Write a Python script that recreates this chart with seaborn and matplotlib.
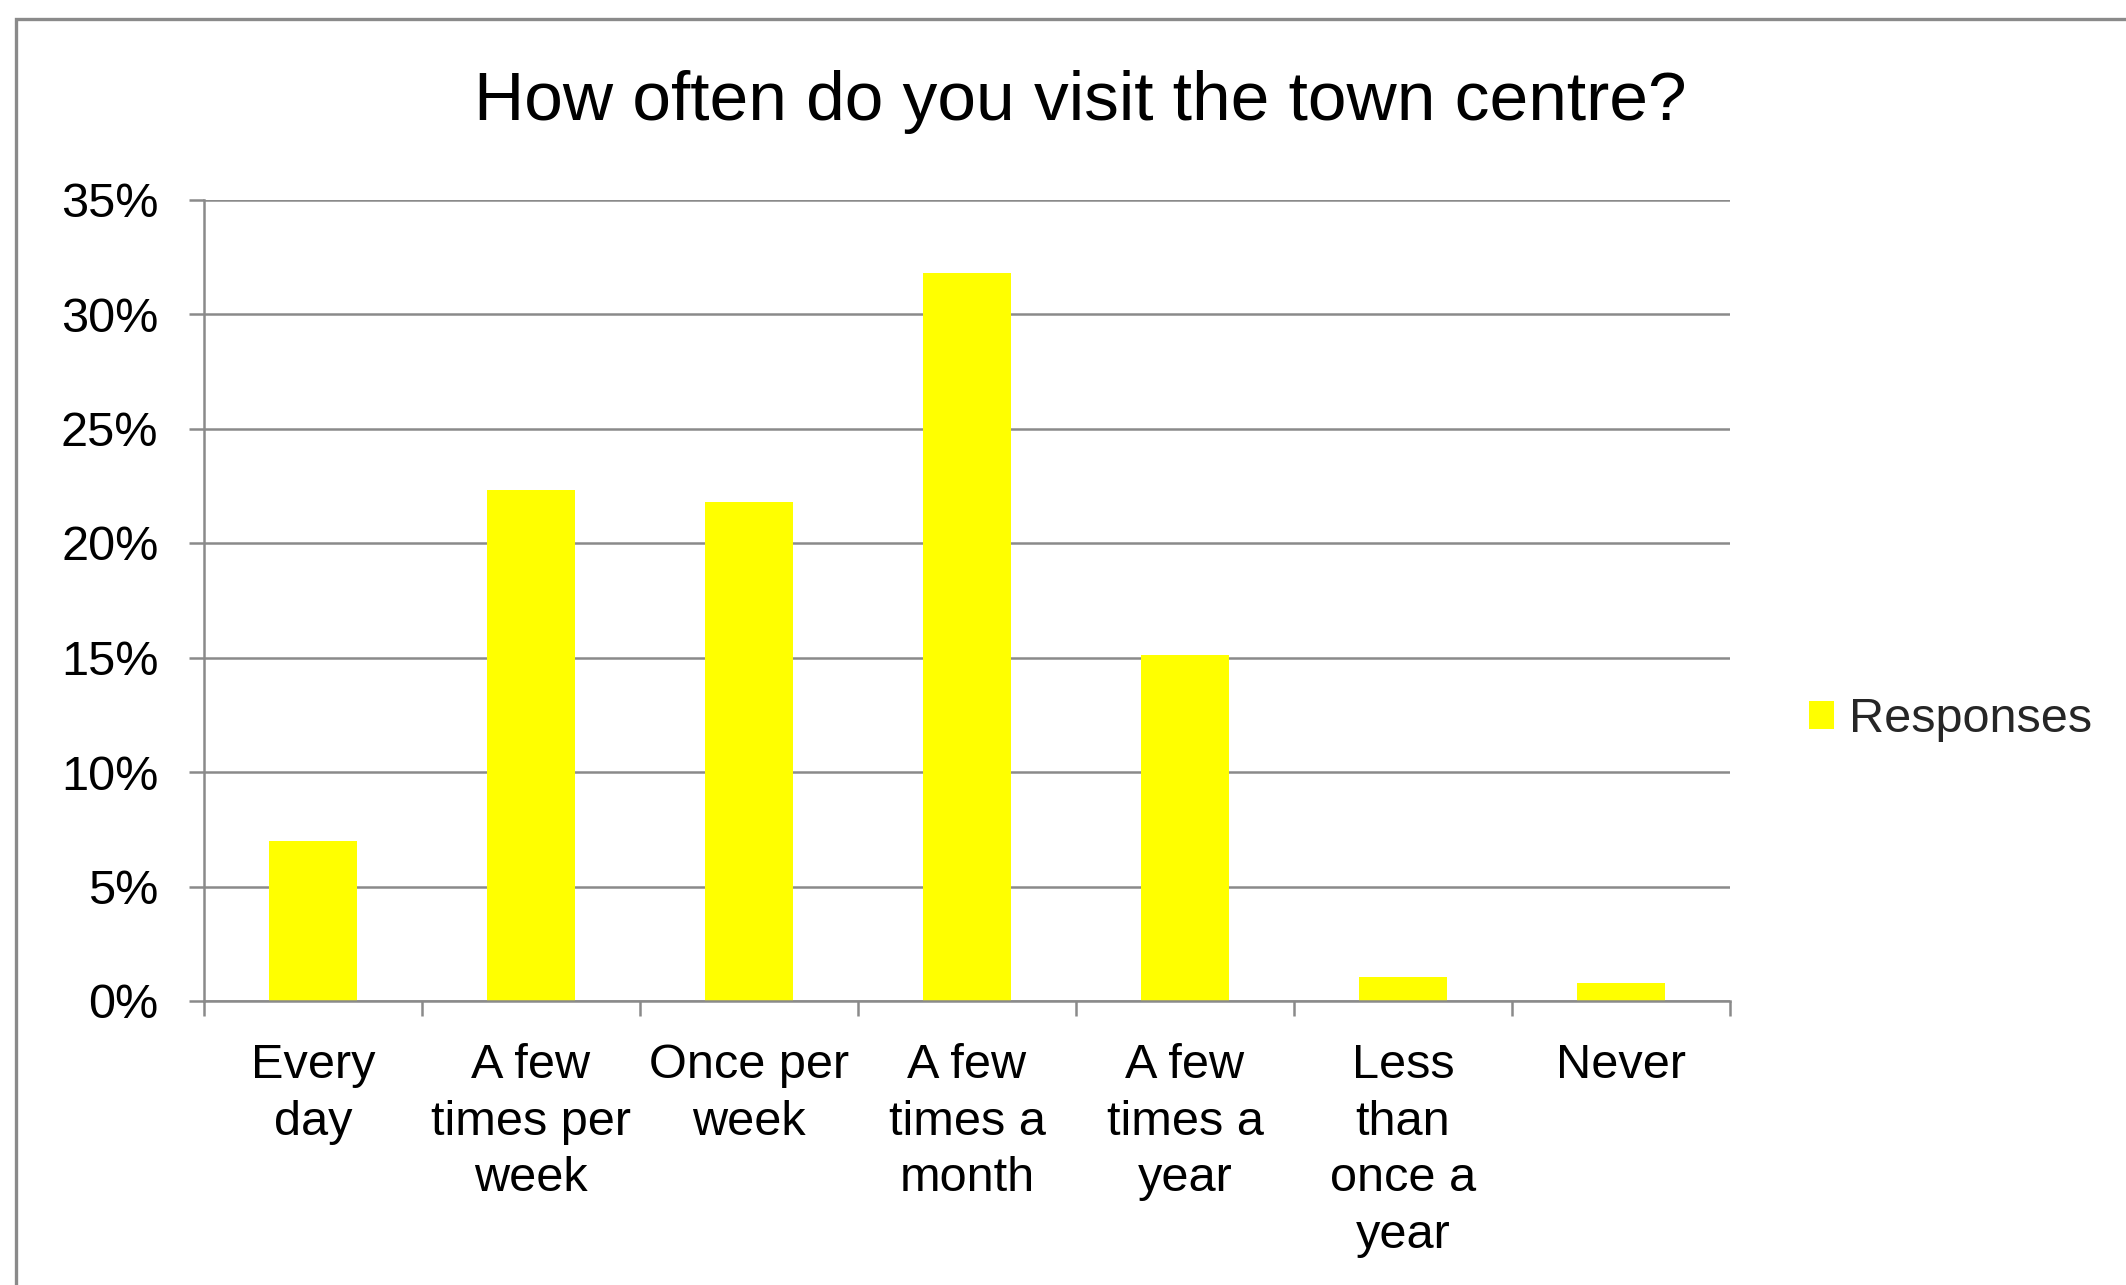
import numpy as np
import pandas as pd
import seaborn as sns
import matplotlib
matplotlib.use("Agg")
import matplotlib.pyplot as plt
from matplotlib.patches import Rectangle
from matplotlib.ticker import PercentFormatter

# Survey answers and share of responses (fraction of all respondents)
categories = [
    "Every\nday",
    "A few\ntimes per\nweek",
    "Once per\nweek",
    "A few\ntimes a\nmonth",
    "A few\ntimes a\nyear",
    "Less\nthan\nonce a\nyear",
    "Never",
]
responses = [0.070, 0.223, 0.218, 0.318, 0.151, 0.0103, 0.0079]
y_ticks = [0.0, 0.05, 0.10, 0.15, 0.20, 0.25, 0.30, 0.35]
title_text = "How often do you visit the town centre?"
series_name = "Responses"

df = pd.DataFrame({"answer": categories, "share": responses})

sns.set_theme(style="white")
plt.rcParams["font.family"] = ["Liberation Sans", "DejaVu Sans"]

GRAY = "#8a8a8a"
BAR = "#FFFF00"

W, H = 2126, 1285
fig = plt.figure(figsize=(W / 100, H / 100), dpi=100)
fig.patch.set_facecolor("white")

ax = fig.add_axes([204 / W, 1 - 1001 / H, (1730 - 204) / W, (1001 - 199.5) / H])

sns.barplot(data=df, x="answer", y="share", color=BAR, width=0.4,
            saturation=1, ax=ax, label=series_name)
for p in ax.patches:
    p.set_edgecolor("none")

ax.set_xlim(-0.5, len(categories) - 0.5)
ax.set_ylim(0, 0.35)
ax.set_xlabel("")
ax.set_ylabel("")

# y axis: percent ticks with outward tick marks and horizontal gridlines
ax.set_yticks(y_ticks)
ax.yaxis.set_major_formatter(PercentFormatter(1.0, decimals=0))
ax.tick_params(axis="y", which="major", direction="out", length=10.8, width=1.8,
               color=GRAY, pad=22, labelsize=35, labelcolor="black", left=True)
ax.yaxis.grid(True, color=GRAY, linewidth=1.8)
ax.xaxis.grid(False)
ax.set_axisbelow(True)

# x axis: tick marks between categories, labels centred under bars
ax.set_xticks(np.arange(-0.5, len(categories)), labels=[""] * (len(categories) + 1))
ax.set_xticks(np.arange(len(categories)), minor=True)
ax.set_xticklabels(categories, minor=True, fontsize=35, linespacing=1.34)
ax.tick_params(axis="x", which="major", direction="out", length=10.8, width=1.8,
               color=GRAY, bottom=True)
ax.tick_params(axis="x", which="minor", length=0, pad=30, labelsize=35,
               labelcolor="black", bottom=True)

for side in ["top", "right"]:
    ax.spines[side].set_visible(False)
for side in ["left", "bottom"]:
    ax.spines[side].set_visible(True)
    ax.spines[side].set_color(GRAY)
    ax.spines[side].set_linewidth(1.8)

# Legend on the right
handles, labels = ax.get_legend_handles_labels()
leg = fig.legend(handles[:1], [series_name], loc="center left",
                 bbox_to_anchor=(1809 / W, 1 - 720 / H), frameon=False,
                 fontsize=35, handlelength=0.52, handleheight=0.52,
                 handletextpad=0.3, borderpad=0, borderaxespad=0)
if ax.get_legend() is not None:
    ax.get_legend().remove()

# Title
fig.text(1080 / W, 1 - 120 / H, title_text, ha="center", va="baseline",
         fontsize=50, color="black")

# Outer chart frame
fig.patches.append(Rectangle((16 / W, -0.1), 1.2, 1.1 - 19 / H,
                             transform=fig.transFigure, fill=False,
                             edgecolor=GRAY, linewidth=2.4))

fig.savefig("out.png", dpi=100, facecolor="white")
